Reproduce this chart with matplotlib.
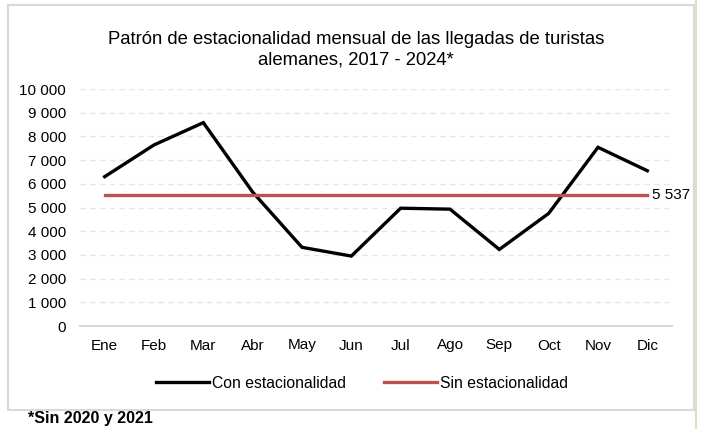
import matplotlib
matplotlib.use("Agg")
import matplotlib.pyplot as plt
from matplotlib.patches import Rectangle
from matplotlib.lines import Line2D

months = ["Ene", "Feb", "Mar", "Abr", "May", "Jun", "Jul", "Ago", "Sep", "Oct", "Nov", "Dic"]
con_estacionalidad = [6300, 7640, 8580, 5650, 3320, 2950, 4970, 4930, 3230, 4750, 7540, 6550]
sin_estacionalidad = [5537] * 12
yticks = [0, 1000, 2000, 3000, 4000, 5000, 6000, 7000, 8000, 9000, 10000]

plt.rcParams['font.family'] = ['Liberation Sans', 'DejaVu Sans']

fig = plt.figure(figsize=(7.01, 4.29), dpi=100)
W, H = 701, 429

# outer chart box
fig.add_artist(Rectangle((8 / W, 1 - 410 / H), (694 - 8) / W, (410 - 5) / H,
                         transform=fig.transFigure, fill=False,
                         edgecolor="#d9d9d9", linewidth=1.5))
# right greenish border
fig.add_artist(Line2D([696 / W, 696 / W], [0, 1], transform=fig.transFigure,
                      color="#d8e4bc", linewidth=1.5))

ax = fig.add_axes([80 / W, 1 - 326 / H, (672 - 80) / W, (326 - 89) / H])
x = list(range(len(months)))
ax.plot(x, con_estacionalidad, color="black", linewidth=2.4, label="Con estacionalidad",
        solid_joinstyle="miter")
ax.plot(x, sin_estacionalidad, color="#c0504d", linewidth=2.4, label="Sin estacionalidad")
ax.text(x[-1] + 0.1, sin_estacionalidad[-1], "5 537", fontsize=11, va="center", ha="left")

ax.set_xlim(-0.5, len(months) - 0.5)
ax.set_ylim(0, 10000)
ax.set_yticks(yticks)
ax.set_yticklabels([f"{v:,}".replace(",", " ") for v in yticks], fontsize=11)
ax.set_xticks(x)
ax.set_xticklabels(months, fontsize=11)
ax.tick_params(axis="both", length=0)
ax.tick_params(axis="x", pad=9)
ax.tick_params(axis="y", pad=10)
for s in ["top", "right", "left"]:
    ax.spines[s].set_visible(False)
ax.spines["bottom"].set_color("#d9d9d9")
ax.spines["bottom"].set_linewidth(1.5)
ax.yaxis.grid(True, color="#e6e6e6", linestyle=(0, (4, 3)), linewidth=1)
ax.set_axisbelow(True)

fig.text(356 / W, 1 - 39 / H, "Patrón de estacionalidad mensual de las llegadas de turistas",
         ha="center", va="center", fontsize=13.3)
fig.text(356 / W, 1 - 60 / H, "alemanes, 2017 - 2024*", ha="center", va="center", fontsize=13.3)

fig.legend(loc="center", bbox_to_anchor=(362 / W, 1 - 383 / H), ncol=2, frameon=False,
           fontsize=11.3, handlelength=3.4, handletextpad=0.2, columnspacing=2.4)

fig.text(28 / W, 1 - 419 / H, "*Sin 2020 y 2021", ha="left", va="center",
         fontsize=11.5, fontweight="bold")

fig.savefig("out.png", dpi=100)
